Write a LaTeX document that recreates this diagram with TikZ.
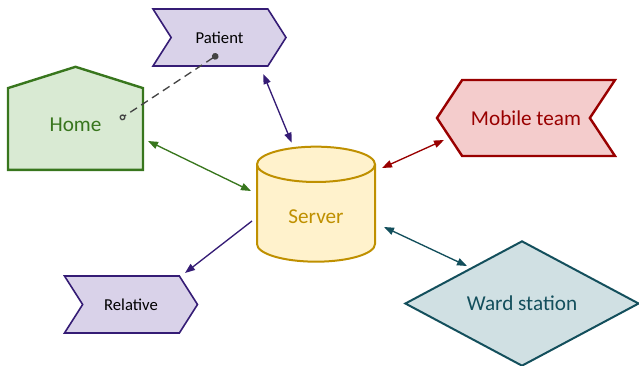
\documentclass[tikz,border=0pt]{standalone}
\usepackage{fontspec}
\setmainfont{Carlito}
\usepackage{tikz}
\usetikzlibrary{arrows.meta,shapes.symbols,shapes.geometric,calc}
\usepackage{xcolor}

\definecolor{purpdraw}{HTML}{351C75}
\definecolor{purpfill}{HTML}{D9D2E9}
\definecolor{greendraw}{HTML}{38761D}
\definecolor{greenfill}{HTML}{D9EAD3}
\definecolor{reddraw}{HTML}{990000}
\definecolor{redfill}{HTML}{F4CCCC}
\definecolor{golddraw}{HTML}{BF9000}
\definecolor{goldfill}{HTML}{FFF2CC}
\definecolor{tealdraw}{HTML}{134F5C}
\definecolor{tealfill}{HTML}{D0E0E3}
\definecolor{dashgray}{HTML}{434343}

\tikzset{
  bigtext/.style={font=\fontsize{15.9}{19}\selectfont},
  smalltext/.style={font=\fontsize{12.5}{15}\selectfont},
  chevron/.style={signal, signal from=west, signal to=east, signal pointer angle=115,
    draw=purpdraw, fill=purpfill, line width=1.2pt, inner sep=0pt, smalltext,
    minimum width=99.75pt, minimum height=42.75pt},
  link/.style={line width=1pt, {Triangle[length=7.5pt,width=5.5pt]}-{Triangle[length=7.5pt,width=5.5pt]}},
}

\begin{document}
\begin{tikzpicture}[x=0.75pt,y=0.75pt,yscale=-1,xscale=1]
\useasboundingbox (0,0) rectangle (639,365);

%Shape: Chevron [Patient]
\node (patient) at (219.5,37.5) [chevron] {Patient};
%Shape: Chevron [Relative]
\node (relative) at (131,304.5) [chevron] {Relative};
%Shape: House
\node (home) at (75.5,129) [signal, signal to=north, signal pointer angle=145,
  draw=greendraw, fill=greenfill, line width=1.8pt, inner sep=0pt, bigtext, text=greendraw,
  minimum width=101.25pt, minimum height=67.5pt] {\raisebox{6pt}{Home}};
%Shape: Tag
\node (mobile) at (526,118) [signal, signal from=east, signal to=west, signal pointer angle=113,
  draw=reddraw, fill=redfill, line width=1.8pt, inner sep=0pt, bigtext, text=reddraw,
  minimum width=133.5pt, minimum height=57pt] {Mobile team};
%Shape: Cylinder
\node (server) at (316,213.5) [cylinder, shape border rotate=90, aspect=0.64,
  draw=golddraw, fill=goldfill, line width=1.5pt, inner sep=0pt, bigtext, text=golddraw,
  minimum width=88.5pt, minimum height=86.25pt] {\raisebox{-7.5pt}[0pt][0pt]{Server}};
%Shape: Diamond
\node (ward) at (522,303.5) [diamond, draw=tealdraw, fill=tealfill, line width=1.5pt,
  inner sep=0pt, bigtext, text=tealdraw, minimum width=175.5pt, minimum height=87pt] {Ward station};

%Straight Lines
\draw [link, purpdraw] ($(patient)+(43.8,36.5)$) -- ($(server)+(-24.3,-70.8)$);
\draw [link, greendraw] ($(home)+(72.5,12)$) -- ($(server)+(-65,-22.5)$);
\draw [link, reddraw] ($(mobile)+(-82,22)$) -- ($(server)+(66,-45.5)$);
\draw [link, tealdraw] ($(server)+(68,13.5)$) -- ($(ward)+(-55,-37.5)$);
\draw [line width=1pt, purpdraw, -{Triangle[length=7.5pt,width=5.5pt]}] ($(server)+(-64,7.5)$) -- ($(relative)+(54,-31.5)$);
%Dashed Line
\draw [line width=1pt, dashgray, dash pattern=on 6pt off 3.75pt,
  {Circle[length=5pt]}-{Circle[open,length=4.5pt]}] ($(patient)+(-1.5,17)$) -- ($(home)+(44.5,-10)$);

\end{tikzpicture}
\end{document}
